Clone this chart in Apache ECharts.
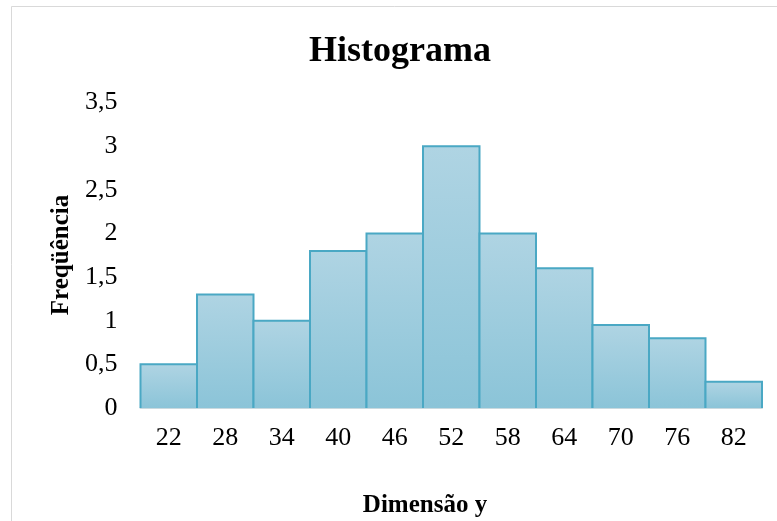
<!DOCTYPE html>
<html>
<head>
<meta charset="utf-8">
<script src="https://cdn.jsdelivr.net/npm/echarts@6/dist/echarts.min.js"></script>
<style>
  html, body { margin: 0; padding: 0; background: #fff; }
  #chart { width: 777px; height: 521px; }
</style>
</head>
<body>
<div id="chart"></div>
<script>
// Class midpoints (Dimensão y) and their frequencies
const categories = ['22', '28', '34', '40', '46', '52', '58', '64', '70', '76', '82'];
const frequencies = [0.5, 1.3, 1.0, 1.8, 2.0, 3.0, 2.0, 1.6, 0.95, 0.8, 0.3];

const titleText = 'Histograma';
const xName = 'Dimensão y';
const yName = 'Freqüência';

const serif = '"Liberation Serif", "Times New Roman", serif';

const barFill = new echarts.graphic.LinearGradient(0, 0, 0, 1, [
  { offset: 0, color: '#afd4e3' },
  { offset: 1, color: '#8bc4d8' }
]);

const chart = echarts.init(document.getElementById('chart'), null, { renderer: 'canvas' });

// Histogram bins drawn edge to edge: each bin spans its whole category band,
// with one shared outline between neighbours.
function renderBin(params, api) {
  const idx = api.value(0);
  const top = api.coord([idx, api.value(1)]);
  const base = api.coord([idx, 0]);
  const band = api.size([1, 0])[0];
  const x0 = top[0] - band / 2;
  const x1 = top[0] + band / 2;
  return {
    type: 'group',
    children: [
      {
        type: 'rect',
        shape: { x: x0, y: top[1], width: band, height: base[1] - top[1] },
        style: { fill: barFill }
      },
      {
        type: 'polyline',
        shape: { points: [[x0, base[1]], [x0, top[1]], [x1, top[1]], [x1, base[1]]] },
        style: { fill: null, stroke: '#4aa8c4', lineWidth: 2 }
      }
    ]
  };
}

chart.setOption({
  animation: false,
  backgroundColor: '#ffffff',
  grid: { left: 140.5, right: 15, top: 102.5, bottom: 113, containLabel: false },
  xAxis: {
    type: 'category',
    data: categories,
    boundaryGap: true,
    axisLine: { show: true, lineStyle: { color: '#c9d9df', width: 2 } },
    axisTick: { show: false },
    axisLabel: { color: '#000', fontFamily: serif, fontSize: 26, margin: 17 }
  },
  yAxis: {
    type: 'value',
    min: 0,
    max: 3.5,
    interval: 0.5,
    splitLine: { show: false },
    axisLine: { show: false },
    axisTick: { show: false },
    axisLabel: {
      color: '#000',
      fontFamily: serif,
      fontSize: 26,
      margin: 23,
      lineHeight: 30,
      padding: [12, 0, 0, 0],
      formatter: v => String(v).replace('.', ',')
    }
  },
  series: [{
    type: 'custom',
    renderItem: renderBin,
    encode: { x: 0, y: 1 },
    data: frequencies.map((f, i) => [i, f]),
    z: 1
  }],
  graphic: [
    {
      type: 'rect',
      silent: true,
      shape: { x: 11.5, y: 6.5, width: 800, height: 600 },
      style: { fill: 'none', stroke: '#d9d9d9', lineWidth: 1 },
      z: -1
    },
    {
      type: 'text',
      x: 400, y: 52,
      style: {
        text: titleText,
        font: 'bold 36px ' + serif,
        fill: '#000',
        textAlign: 'center',
        textVerticalAlign: 'middle'
      }
    },
    {
      type: 'text',
      x: 425, y: 506,
      style: {
        text: xName,
        font: 'bold 25px ' + serif,
        fill: '#000',
        textAlign: 'center',
        textVerticalAlign: 'middle'
      }
    },
    {
      type: 'text',
      x: 62, y: 255,
      rotation: Math.PI / 2,
      style: {
        text: yName,
        font: 'bold 25px ' + serif,
        fill: '#000',
        textAlign: 'center',
        textVerticalAlign: 'middle'
      }
    }
  ]
});
</script>
</body>
</html>
